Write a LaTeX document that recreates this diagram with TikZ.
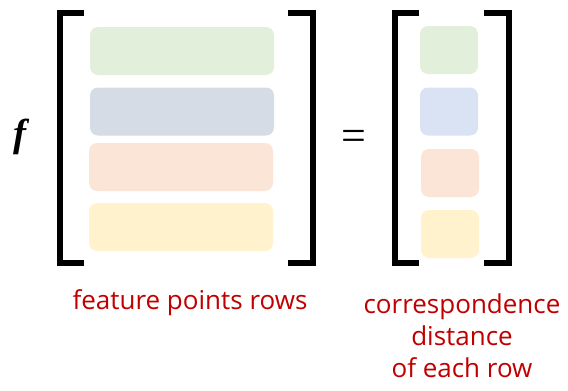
\documentclass[tikz,border=0pt]{standalone}
\usepackage{fontspec}
\setmainfont{Open Sans}
\newfontfamily\fserif{Liberation Serif}
\usetikzlibrary{positioning}
\definecolor{rowgreen}{HTML}{E2EFDA}
\definecolor{rowgray}{HTML}{D6DCE5}
\definecolor{rowpeach}{HTML}{FBE5D6}
\definecolor{rowyellow}{HTML}{FFF2CC}
\definecolor{rowblue}{HTML}{DAE3F3}
\definecolor{labelred}{HTML}{C00000}

\begin{document}
\begin{tikzpicture}[x=1pt,y=-1pt,
  row/.style={rounded corners=8pt, minimum width=184pt, minimum height=48pt, inner sep=0pt},
  cell/.style={rounded corners=8pt, minimum width=58pt, minimum height=48pt, inner sep=0pt},
  brack/.style={line width=6pt, line join=miter},
  caption/.style={text=labelred, align=center, font=\fontsize{26}{32}\selectfont}]
\useasboundingbox (0,0) rectangle (568,391);

\node[font=\fontsize{39}{39}\selectfont\fserif\bfseries\itshape] (F) at (20,137) {f};

\draw[brack] (84,13) -- (60,13) -- (60,263) -- (84,263);
\draw[brack] (288,13) -- (313,13) -- (313,263) -- (288,263);

\node[row, fill=rowgreen] (R1) at (182,51) {};
\node[row, fill=rowgray] (R2) at (182,111.5) {};
\node[row, fill=rowpeach] (R3) at (181,167) {};
\node[row, fill=rowyellow] (R4) at (181,227) {};

\node[font=\fontsize{44}{44}\selectfont\fserif] (EQ) at (353.5,140) {=};

\draw[brack] (419,13) -- (394.5,13) -- (394.5,263) -- (419,263);
\draw[brack] (484,13) -- (509,13) -- (509,263) -- (484,263);

\node[cell, fill=rowgreen] (C1) at (449,50) {};
\node[cell, fill=rowblue] (C2) at (449,111.5) {};
\node[cell, fill=rowpeach] (C3) at (450,173) {};
\node[cell, fill=rowyellow] (C4) at (450,234) {};

\node[caption] (L1) at (190,303) {feature points rows};
\node[caption] (L2) at (462,335.5) {correspondence\\distance\\of each row};

\end{tikzpicture}
\end{document}
